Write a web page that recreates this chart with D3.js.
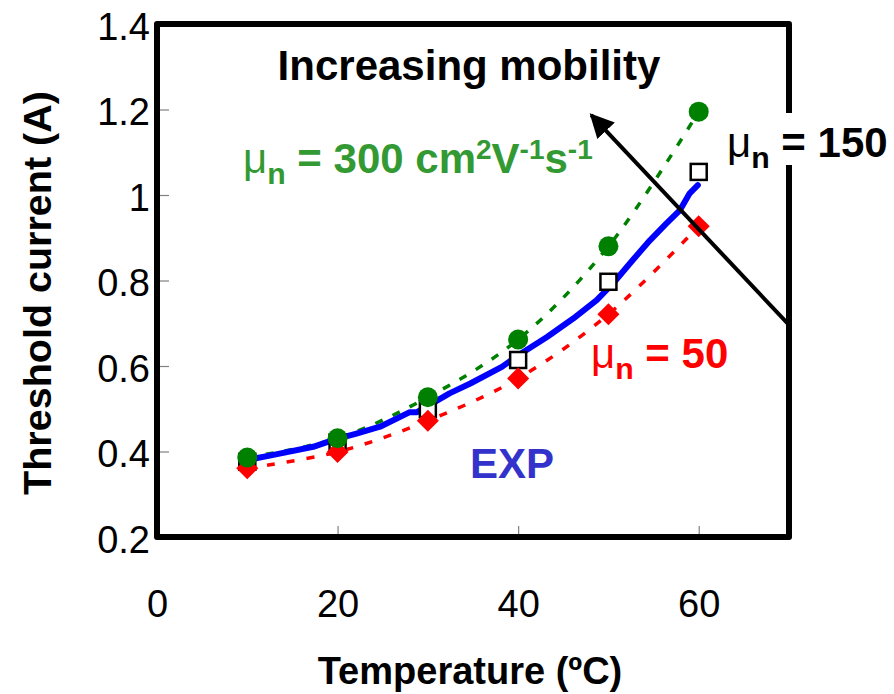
<!DOCTYPE html>
<html>
<head>
<meta charset="utf-8">
<script src="https://cdn.jsdelivr.net/npm/d3@7"></script>
<style>
  html, body { margin: 0; padding: 0; background: #fff; }
  svg { display: block; font-family: "Liberation Sans", Arial, sans-serif; }
</style>
</head>
<body>
<svg id="chart" width="894" height="694"></svg>
<script>
// Simulated threshold current vs temperature for three electron mobilities
const temps = [10, 20, 30, 40, 50, 60];
const mu300 = [0.386, 0.431, 0.527, 0.662, 0.880, 1.195];
const mu150 = [0.376, 0.421, 0.499, 0.614, 0.797, 1.054];
const mu50  = [0.361, 0.399, 0.472, 0.571, 0.721, 0.927];

// Measured threshold current (EXP)
const expT = [9.9, 12.9, 17.3, 19.8, 22.1, 24.7, 28.0, 28.8, 30.2, 32.4, 34.7, 38.2, 39.8,
              43.2, 46.1, 48.7, 50.5, 52.7, 54.6, 56.4, 57.9, 59.0, 59.9];
const expI = [0.380, 0.392, 0.411, 0.429, 0.442, 0.458, 0.492, 0.492, 0.509, 0.536, 0.559, 0.598, 0.622,
              0.668, 0.711, 0.754, 0.793, 0.848, 0.894, 0.933, 0.964, 1.004, 1.023];

// Axis ticks and labels
const xTicks = [0, 20, 40, 60];
const xTickLabels = ["0", "20", "40", "60"];
const yTicks = [0.2, 0.4, 0.6, 0.8, 1.0, 1.2, 1.4];
const yTickLabels = ["0.2", "0.4", "0.6", "0.8", "1", "1.2", "1.4"];

// Arrow: from lower-right (low mobility) to upper-left (high mobility)
const arrowFrom = [70, 0.696];
const arrowTo = [48.1, 1.187];

const svg = d3.select("#chart");
const x = d3.scaleLinear().domain([0, 70]).range([157, 789]);
const y = d3.scaleLinear().domain([0.2, 1.4]).range([537, 24]);

// Axes with inward grey ticks
const xAxis = d3.axisBottom(x).tickValues(xTicks)
  .tickFormat((d, i) => xTickLabels[i]).tickSizeInner(-11).tickSizeOuter(0).tickPadding(53);
const yAxis = d3.axisLeft(y).tickValues(yTicks)
  .tickFormat((d, i) => yTickLabels[i]).tickSizeInner(-12).tickSizeOuter(0).tickPadding(7);

const gx = svg.append("g").attr("transform", `translate(0,${y.range()[0]})`).call(xAxis);
const gy = svg.append("g").attr("transform", `translate(${x.range()[0]},0)`).call(yAxis);
[gx, gy].forEach(g => {
  g.select(".domain").remove();
  g.selectAll(".tick line").attr("stroke", "#808080").attr("stroke-width", 1.2);
  g.selectAll(".tick text").attr("fill", "#000").attr("font-size", 38)
    .attr("font-family", "Liberation Sans, Arial, sans-serif");
});
gy.selectAll(".tick text").attr("dy", "0.4em");
gx.selectAll(".tick line").filter(d => d === 0).remove();

// Plot frame
svg.append("rect")
  .attr("x", x(0)).attr("y", y(1.4))
  .attr("width", x(70) - x(0)).attr("height", y(0.2) - y(1.4))
  .attr("fill", "none").attr("stroke", "#000").attr("stroke-width", 6)
  .attr("stroke-linejoin", "round");

// Axis titles
svg.append("text").attr("x", 470).attr("y", 684).attr("text-anchor", "middle")
  .attr("font-size", 38).attr("font-weight", "bold").text("Temperature (ºC)");
svg.append("text").attr("transform", "translate(51,293) rotate(-90)").attr("text-anchor", "middle")
  .attr("font-size", 39.5).attr("font-weight", "bold").text("Threshold current (A)");

const smooth = d3.line().x(d => x(d[0])).y(d => y(d[1])).curve(d3.curveCatmullRom.alpha(0.5));
const straight = d3.line().x(d => x(d[0])).y(d => y(d[1]));

// Simulation curves (dashed, smoothed)
svg.append("path").datum(temps.map((t, i) => [t, mu300[i]])).attr("d", smooth)
  .attr("fill", "none").attr("stroke", "#008000").attr("stroke-width", 3.5).attr("stroke-dasharray", "8,11");
svg.append("path").datum(temps.map((t, i) => [t, mu50[i]])).attr("d", smooth)
  .attr("fill", "none").attr("stroke", "#ff0000").attr("stroke-width", 3.5).attr("stroke-dasharray", "8,12");

// Experimental curve
svg.append("path").datum(expT.map((t, i) => [t, expI[i]])).attr("d", straight)
  .attr("fill", "none").attr("stroke", "#0000ff").attr("stroke-width", 6)
  .attr("stroke-linejoin", "round").attr("stroke-linecap", "round");

// Markers
const sq = 16;
svg.append("g").selectAll("rect").data(temps.map((t, i) => [t, mu150[i]])).join("rect")
  .attr("x", d => x(d[0]) - sq / 2).attr("y", d => y(d[1]) - sq / 2)
  .attr("width", sq).attr("height", sq)
  .attr("fill", "#fff").attr("stroke", "#000").attr("stroke-width", 2.5);
const dia = d3.symbol().type(d3.symbolDiamond2).size(310);
svg.append("g").selectAll("path").data(temps.map((t, i) => [t, mu50[i]])).join("path")
  .attr("d", dia).attr("transform", d => `translate(${x(d[0])},${y(d[1])})`)
  .attr("fill", "#ff0000");
svg.append("g").selectAll("circle").data(temps.map((t, i) => [t, mu300[i]])).join("circle")
  .attr("cx", d => x(d[0])).attr("cy", d => y(d[1])).attr("r", 10)
  .attr("fill", "#008000");

// Arrow
svg.append("defs").append("marker")
  .attr("id", "head").attr("viewBox", "0 0 10 10").attr("refX", 9).attr("refY", 5)
  .attr("markerWidth", 6).attr("markerHeight", 6).attr("orient", "auto")
  .attr("markerUnits", "strokeWidth")
  .append("path").attr("d", "M0,0 L10,5 L0,10 Z").attr("fill", "#000");
svg.append("line")
  .attr("x1", x(arrowFrom[0])).attr("y1", y(arrowFrom[1]))
  .attr("x2", x(arrowTo[0])).attr("y2", y(arrowTo[1]))
  .attr("stroke", "#000").attr("stroke-width", 4).attr("marker-end", "url(#head)");

// Annotations
svg.append("text").attr("x", 469).attr("y", 80).attr("text-anchor", "middle")
  .attr("font-size", 42).attr("font-weight", "bold").text("Increasing mobility");

function muLabel(g, xPos, yBase, size, color, rest) {
  const t = g.append("text").attr("x", xPos).attr("y", yBase).attr("fill", color)
    .attr("font-size", size).attr("font-weight", "bold");
  t.append("tspan").attr("font-weight", "normal").text("μ");
  t.append("tspan").attr("font-size", size * 0.72).attr("dy", size * 0.26).text("n");
  t.append("tspan").attr("dy", -size * 0.26).text(rest);
  return t;
}

// μn = 150 label sits on a white box over the frame
svg.append("rect").attr("x", 719).attr("y", 113).attr("width", 175).attr("height", 52).attr("fill", "#fff");
muLabel(svg, 727, 157, 42, "#000", " = 150");

muLabel(svg, 591, 368, 42, "#ff0000", " = 50");

const g300 = muLabel(svg, 243, 173, 42, "#339933", " = 300 cm");
g300.append("tspan").attr("font-size", 28).attr("dy", -14).text("2");
g300.append("tspan").attr("dy", 14).text("V");
g300.append("tspan").attr("font-size", 28).attr("dy", -14).text("-1");
g300.append("tspan").attr("dy", 14).text("s");
g300.append("tspan").attr("font-size", 28).attr("dy", -14).text("-1");

svg.append("text").attr("x", 470).attr("y", 478)
  .attr("font-size", 42).attr("font-weight", "bold").attr("fill", "#3333cc").text("EXP");
</script>
</body>
</html>
